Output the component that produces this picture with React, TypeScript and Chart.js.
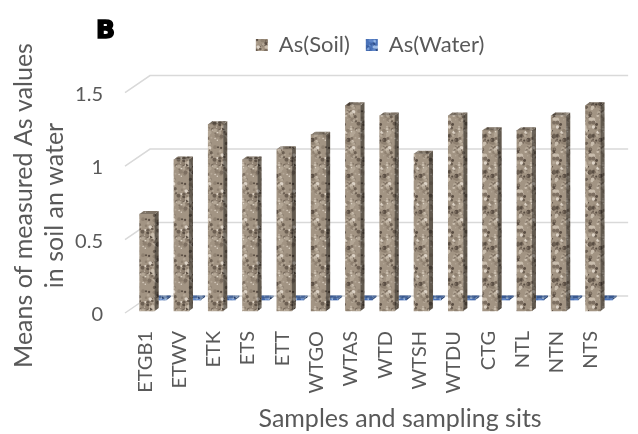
import { useEffect, useRef } from "react";
import { Chart, registerables } from "chart.js";

Chart.register(...registerables);

const CATEGORIES = ["ETGB1", "ETWV", "ETK", "ETS", "ETT", "WTGO", "WTAS", "WTD", "WTSH", "WTDU", "CTG", "NTL", "NTN", "NTS"];
const SOIL = [0.66, 1.03, 1.27, 1.03, 1.1, 1.2, 1.4, 1.33, 1.07, 1.33, 1.23, 1.23, 1.33, 1.4];
const WATER = [0.01, 0.01, 0.01, 0.01, 0.01, 0.01, 0.01, 0.01, 0.01, 0.01, 0.01, 0.01, 0.01, 0.01];
const SERIES_NAMES = ["As(Soil)", "As(Water)"];
const Y_TICKS = [0, 0.5, 1, 1.5];
const Y_MAX = 1.667;
const X_TITLE = "Samples and sampling sits";
const Y_TITLE = ["Means of measured As values", "in soil an water"];
const PANEL_LABEL = "B";

const TEXT = "#595959";
const FONT = "Lato";

function hash(n: number) {
  const s = Math.sin(n * 127.1 + 311.7) * 43758.5453;
  return s - Math.floor(s);
}

function makeTexture(base: string, palette: string[]) {
  const S = 36;
  const c = document.createElement("canvas");
  c.width = S;
  c.height = S;
  const g = c.getContext("2d")!;
  g.fillStyle = base;
  g.fillRect(0, 0, S, S);
  for (let k = 0; k < 140; k++) {
    const x = hash(k * 3.1) * S;
    const y = hash(k * 7.3 + 1) * S;
    const r = 0.6 + hash(k * 5.7 + 2) * 1.6;
    const col = palette[Math.floor(hash(k * 11.9 + 3) * palette.length) % palette.length];
    g.fillStyle = col;
    for (const ox of [-S, 0, S]) {
      for (const oy of [-S, 0, S]) {
        g.beginPath();
        g.arc(x + ox, y + oy, r, 0, Math.PI * 2);
        g.fill();
      }
    }
  }
  return g.createPattern(c, "repeat")!;
}

export default function App() {
  const ref = useRef<HTMLCanvasElement>(null);

  useEffect(() => {
    const canvas = ref.current!;
    const soilFill = makeTexture("#a29483", ["#5a4e43", "#7d6f61", "#8f8171", "#c9bdad", "#ddd3c6", "#b3a695", "#6c5f52"]);
    const waterFill = makeTexture("#4a72b8", ["#2f4f8a", "#5f86c8", "#9dbbe6", "#3d63a6", "#7aa0da"]);

    const DX = 4;
    const DY = -3;

    const drawFaces = (ctx: CanvasRenderingContext2D, el: any, fill: CanvasPattern) => {
      const { x, y, base, width } = el.getProps(["x", "y", "base", "width"], true);
      const l = x - width / 2;
      const r = x + width / 2;
      ctx.beginPath();
      ctx.moveTo(r, y);
      ctx.lineTo(r + DX, y + DY);
      ctx.lineTo(r + DX, base + DY);
      ctx.lineTo(r, base);
      ctx.closePath();
      ctx.fillStyle = fill;
      ctx.fill();
      ctx.fillStyle = "rgba(0,0,0,0.4)";
      ctx.fill();
      ctx.beginPath();
      ctx.moveTo(l, y);
      ctx.lineTo(l + DX, y + DY);
      ctx.lineTo(r + DX, y + DY);
      ctx.lineTo(r, y);
      ctx.closePath();
      ctx.fillStyle = fill;
      ctx.fill();
      ctx.fillStyle = "rgba(0,0,0,0.22)";
      ctx.fill();
    };

    const plugin3d = {
      id: "plugin3d",
      afterLayout(chart: any) {
        const xs = chart.scales.x;
        const ys = chart.scales.y;
        xs.left += 30;
        xs.right += 30;
        ys.top += 17;
        ys.bottom += 17;
      },
      beforeDatasetsDraw(chart: any) {
        const { ctx, chartArea, scales } = chart;
        ctx.save();
        ctx.strokeStyle = "#d9d9d9";
        ctx.lineWidth = 1.5;
        for (const v of Y_TICKS) {
          const py = scales.y.getPixelForValue(v);
          ctx.beginPath();
          ctx.moveTo(chartArea.left - 5, py + 2);
          ctx.lineTo(chartArea.left + 20, py - 15);
          ctx.lineTo(chartArea.right + 18, py - 15);
          ctx.stroke();
        }
        ctx.restore();
      },
      beforeDatasetDraw(chart: any, args: any) {
        if (args.index === 1) {
          chart.ctx.save();
          chart.ctx.translate(12, -11);
        }
      },
      afterDatasetDraw(chart: any, args: any) {
        const ctx = chart.ctx;
        const fill = args.index === 0 ? soilFill : waterFill;
        ctx.save();
        for (const el of args.meta.data) drawFaces(ctx, el, fill);
        ctx.restore();
        if (args.index === 1) ctx.restore();
      },
      afterDraw(chart: any) {
        const ctx = chart.ctx;
        ctx.save();
        ctx.fillStyle = "#000";
        ctx.strokeStyle = "#000";
        ctx.lineWidth = 1.6;
        ctx.font = "bold 25px 'DejaVu Sans'";
        ctx.textBaseline = "alphabetic";
        ctx.fillText(PANEL_LABEL, 96, 38);
        ctx.strokeText(PANEL_LABEL, 96, 38);
        ctx.restore();
      },
    };

    const chart = new Chart(canvas, {
      type: "bar",
      data: {
        labels: CATEGORIES,
        datasets: [
          {
            label: SERIES_NAMES[0],
            data: SOIL,
            backgroundColor: soilFill,
            barThickness: 15,
            grouped: false,
            order: 0,
            clip: false,
          } as any,
          {
            label: SERIES_NAMES[1],
            data: WATER,
            backgroundColor: waterFill,
            barThickness: 15,
            grouped: false,
            order: 1,
            clip: false,
          } as any,
        ],
      },
      options: {
        responsive: false,
        animation: false,
        layout: { padding: { top: 18, right: 18, bottom: 0, left: 0 } },
        font: { family: FONT },
        plugins: {
          legend: {
            position: "top",
            fullSize: false,
            labels: {
              color: TEXT,
              font: { family: FONT, size: 22 },
              boxWidth: 12,
              boxHeight: 12,
              padding: 16,
            },
          },
          tooltip: { enabled: false },
        },
        scales: {
          x: {
            grid: { display: false, drawTicks: false },
            border: { display: false },
            ticks: {
              autoSkip: false,
              minRotation: 90,
              maxRotation: 90,
              padding: 20,
              labelOffset: -2,
              color: TEXT,
              font: { family: FONT, size: 20 },
            },
            title: {
              display: true,
              text: X_TITLE,
              color: TEXT,
              font: { family: FONT, size: 25 },
              padding: { top: 0, bottom: 0 },
            },
            afterFit: (s: any) => {
              s.height = 123;
            },
          },
          y: {
            min: 0,
            max: Y_MAX,
            afterBuildTicks: (s: any) => {
              s.ticks = Y_TICKS.map((v) => ({ value: v }));
            },
            grid: { display: false, drawTicks: false },
            border: { display: false },
            ticks: {
              padding: 27,
              labelOffset: 4,
              color: TEXT,
              font: { family: FONT, size: 20 },
              callback: (v: any) => String(v),
            },
            title: {
              display: true,
              text: Y_TITLE,
              color: TEXT,
              font: { family: FONT, size: 25, lineHeight: 1.25 },
              padding: { top: 8, bottom: 0 },
            },
            afterFit: (s: any) => {
              s.width = 130;
            },
          },
        },
      } as any,
      plugins: [plugin3d],
    });

    return () => chart.destroy();
  }, []);

  return (
    <div style={{ position: "fixed", left: 0, top: 0, width: 638, height: 434, background: "#fff" }}>
      <canvas ref={ref} width={638} height={434} style={{ display: "block", width: 638, height: 434 }} />
    </div>
  );
}
